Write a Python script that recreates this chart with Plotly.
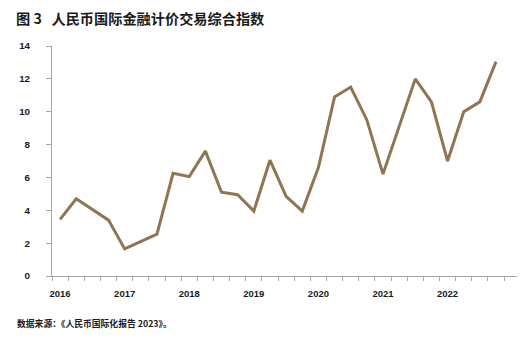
import plotly.graph_objects as go

# Quarterly index, 2016Q1 - 2022Q4 (None = no published value for that quarter)
quarters = [f"{y}Q{q}" for y in range(2016, 2023) for q in range(1, 5)]
index_values = [
    3.45, 4.7, None, 3.4,
    1.65, None, 2.55, 6.25,
    6.05, 7.6, 5.1, 4.95,
    3.95, 7.05, 4.85, 3.95,
    6.6, 10.9, 11.5, 9.5,
    6.2, None, 12.0, 10.6,
    7.0, 10.0, 10.6, 13.05,
]
year_labels = ["2016", "2017", "2018", "2019", "2020", "2021", "2022"]
y_ticks = [0, 2, 4, 6, 8, 10, 12, 14]

positions = list(range(len(quarters)))
year_positions = [quarters.index(f"{y}Q1") for y in year_labels]

W, H = 530, 338
M_L, M_R, M_T, M_B = 52, 13, 46, 62

LINE_COLOR = "#8f7550"
AXIS_COLOR = "#a6a6a6"
TEXT_COLOR = "#1a1a1a"
NUM_FONT = "Liberation Sans, Arial, sans-serif"
CJK_FONT = "Noto Sans CJK SC, sans-serif"
NBSP = "\u00a0"

fig = go.Figure(
    go.Scatter(
        x=positions,
        y=index_values,
        mode="lines",
        connectgaps=True,
        line=dict(color=LINE_COLOR, width=3),
        hovertext=quarters,
        hoverinfo="text+y",
    )
)

fig.update_layout(
    width=W,
    height=H,
    margin=dict(l=M_L, r=M_R, t=M_T, b=M_B),
    paper_bgcolor="white",
    plot_bgcolor="white",
    showlegend=False,
    title=dict(
        text=f"<b>图{NBSP}3{NBSP*3}人民币国际金融计价交易综合指数</b>",
        font=dict(family=CJK_FONT, size=14.2, color=TEXT_COLOR),
        x=16 / W,
        xanchor="left",
        xref="container",
        y=1 - 19 / H,
        yanchor="middle",
        yref="container",
    ),
    annotations=[
        dict(
            text="<b>数据来源：《人民币国际化报告 2023》。</b>",
            font=dict(family=CJK_FONT, size=8.8, color=TEXT_COLOR),
            xref="paper",
            yref="paper",
            x=(15 - M_L) / (W - M_L - M_R),
            xanchor="left",
            y=-(323 - (H - M_B)) / (H - M_T - M_B),
            yanchor="middle",
            showarrow=False,
        )
    ],
)

fig.update_xaxes(
    automargin=False,
    range=[-0.5, 28.3],
    tickmode="array",
    tickvals=year_positions,
    ticktext=[f"<b>{t}</b>" for t in year_labels],
    ticks="",
    ticklabelstandoff=9,
    tickfont=dict(family=NUM_FONT, size=9.5, color=TEXT_COLOR),
    showline=True,
    linecolor=AXIS_COLOR,
    linewidth=1,
    showgrid=False,
    zeroline=False,
    minor=dict(
        tickmode="linear",
        tick0=-0.5,
        dtick=1,
        ticks="outside",
        ticklen=4,
        tickcolor=AXIS_COLOR,
        tickwidth=1,
        showgrid=False,
    ),
)

fig.update_yaxes(
    automargin=False,
    range=[0, 14],
    tickmode="array",
    tickvals=y_ticks,
    ticktext=[f"<b>{v}</b>" for v in y_ticks],
    ticks="outside",
    ticklen=5,
    tickcolor=AXIS_COLOR,
    tickwidth=1,
    ticklabelstandoff=14,
    tickfont=dict(family=NUM_FONT, size=9.8, color=TEXT_COLOR),
    showline=True,
    linecolor=AXIS_COLOR,
    linewidth=1,
    showgrid=False,
    zeroline=False,
)

fig.write_html("out.html")
